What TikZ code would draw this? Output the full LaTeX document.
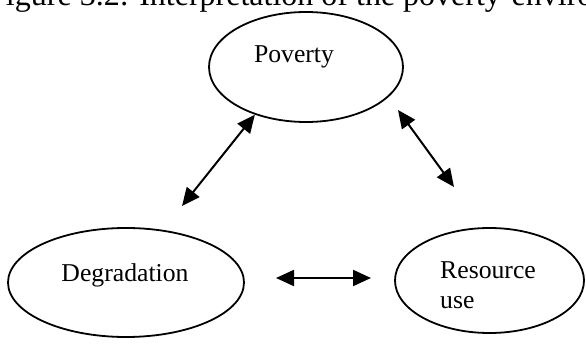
\documentclass[tikz,border=0pt]{standalone}
\usepackage{fontspec}
\setmainfont{Liberation Serif}
\usetikzlibrary{shapes.geometric, arrows.meta, positioning, calc}

\begin{document}
\begin{tikzpicture}[
    x=1pt, y=-1pt,
    font=\fontsize{25.7pt}{31pt}\selectfont,
    >=latex,
    % Styles for the three linked issues
    issue/.style={draw=black, line width=1.8pt, ellipse, inner sep=0pt},
    issuetext/.style={anchor=base, inner sep=0pt},
    captiontext/.style={anchor=base west, inner sep=0pt, font=\fontsize{32pt}{38pt}\selectfont},
    link/.style={{Triangle[length=18pt, width=16pt]}-{Triangle[length=18pt, width=16pt]}, line width=2pt}
]

\useasboundingbox (0,0) rectangle (586,347);
\clip (0,0) rectangle (586,347);

% ----------------------------------------------------
% Caption (cut off by the top edge)
% ----------------------------------------------------
\node[captiontext] (caption) at (-12,6) {Figure 3.2: Interpretation of the poverty-environment nexus};

% ----------------------------------------------------
% Issues
% ----------------------------------------------------
\node[issue, minimum width=194pt, minimum height=110pt] (poverty) at (306,67) {};
\node[issue, minimum width=236pt, minimum height=109pt] (degradation) at (126,282.5) {};
\node[issue, minimum width=189pt, minimum height=105pt] (resource) at (489.5,280.5) {};

\node[issuetext] (povertytext) at (294,63) {Poverty};
\node[issuetext] (degradationtext) at (125,282) {Degradation};
\node[issuetext, anchor=base west] (resourcetext) at (440,279) {Resource};
\node[issuetext, anchor=base west] (usetext) at (440,308) {use};

% ----------------------------------------------------
% Two-way links
% ----------------------------------------------------
\coordinate (pdtip) at (182,206);
\coordinate (prtop) at (398,110);
\coordinate (prtip) at (454,187);
\coordinate (drleft) at (276,278);
\coordinate (drright) at (371,278);

\draw[link] (poverty.223) -- (pdtip);
\draw[link] (prtop) -- (prtip);
\draw[link] (drleft) -- (drright);

\end{tikzpicture}
\end{document}
